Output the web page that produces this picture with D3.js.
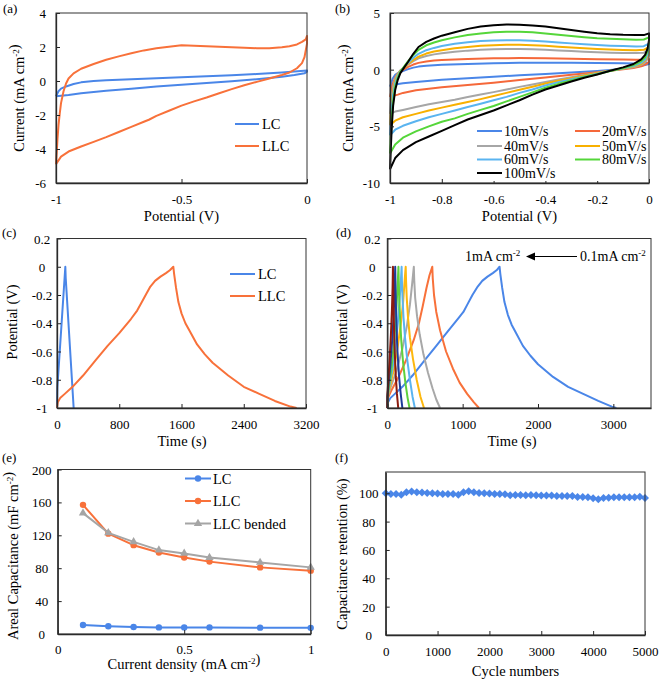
<!DOCTYPE html>
<html><head><meta charset="utf-8">
<script src="https://cdn.jsdelivr.net/npm/d3@7"></script>
<style>
body{margin:0;background:#fff}
svg{display:block}
text{font-family:"Liberation Serif","Times New Roman",serif;fill:#000}
</style>
</head><body>
<svg id="c" width="661" height="682"></svg>
<script>
// ---------- (a) CV: LC vs LLC ----------
const aLC = [[-1,-0.9],[-0.995,-0.75],[-0.99,-0.6],[-0.98,-0.45],[-0.96,-0.32],[-0.93,-0.18],[-0.9,-0.08],[-0.85,0.0],[-0.8,0.04],[-0.7,0.1],[-0.6,0.16],[-0.5,0.22],[-0.4,0.28],[-0.3,0.34],[-0.2,0.41],[-0.1,0.5],[-0.05,0.56],[0,0.62],
  [0,0.55],[-0.01,0.45],[-0.05,0.35],[-0.1,0.25],[-0.2,0.1],[-0.3,-0.02],[-0.4,-0.12],[-0.5,-0.22],[-0.6,-0.33],[-0.7,-0.45],[-0.8,-0.57],[-0.9,-0.72],[-0.95,-0.82],[-0.98,-0.87],[-1,-0.9]];
const aLLC = [[-1,-4.9],[-0.997,-4.2],[-0.994,-3.4],[-0.99,-2.6],[-0.985,-1.9],[-0.98,-1.3],[-0.97,-0.6],[-0.96,-0.15],[-0.95,0.15],[-0.93,0.45],[-0.9,0.72],[-0.85,1.0],[-0.8,1.25],[-0.75,1.45],[-0.7,1.63],[-0.65,1.8],[-0.6,1.92],[-0.55,2.02],[-0.5,2.1],[-0.45,2.08],[-0.4,2.05],[-0.35,2.02],[-0.3,1.98],[-0.25,1.95],[-0.2,1.93],[-0.15,1.93],[-0.1,1.98],[-0.07,2.05],[-0.04,2.15],[-0.02,2.3],[-0.005,2.45],[0,2.65],
  [0,2.2],[-0.005,1.8],[-0.01,1.4],[-0.02,1.05],[-0.04,0.75],[-0.07,0.5],[-0.1,0.35],[-0.15,0.15],[-0.2,-0.05],[-0.25,-0.25],[-0.3,-0.48],[-0.35,-0.72],[-0.4,-0.97],[-0.45,-1.2],[-0.5,-1.45],[-0.55,-1.75],[-0.6,-2.05],[-0.63,-2.28],[-0.65,-2.4],[-0.7,-2.7],[-0.75,-3.0],[-0.8,-3.3],[-0.85,-3.58],[-0.9,-3.85],[-0.95,-4.15],[-0.98,-4.45],[-1,-4.9]];
const aXTicks = [-1,-0.5,0];
const aYTicks = [-6,-4,-2,0,2,4];

// ---------- (b) CV at scan rates ----------
const bNames = ["10mV/s","20mV/s","40mV/s","50mV/s","60mV/s","80mV/s","100mV/s"];
const bColors = ["#4a86e8","#f5683a","#a6a6a6","#f8b000","#5ab4f0","#55d63a","#000000"];
const b10 = [[-1,-1.5],[-0.995,-1.2],[-0.99,-0.8],[-0.98,-0.45],[-0.97,-0.3],[-0.96,-0.2],[-0.945,-0.08],[-0.93,0.05],[-0.91,0.18],[-0.89,0.27],[-0.86,0.35],[-0.83,0.4],[-0.8,0.43],[-0.7,0.5],[-0.6,0.56],[-0.5,0.6],[-0.4,0.6],[-0.3,0.6],[-0.2,0.58],[-0.1,0.56],[-0.05,0.55],[0,0.6],
  [0,0.5],[-0.02,0.38],[-0.05,0.25],[-0.1,0.08],[-0.15,-0.03],[-0.2,-0.12],[-0.3,-0.25],[-0.4,-0.38],[-0.5,-0.5],[-0.6,-0.62],[-0.7,-0.75],[-0.8,-0.9],[-0.9,-1.08],[-0.95,-1.2],[-0.98,-1.3],[-1,-1.5]];
const b20 = [[-1,-2.4],[-0.995,-1.9],[-0.99,-1.3],[-0.98,-0.7],[-0.97,-0.35],[-0.96,-0.15],[-0.945,0.05],[-0.93,0.25],[-0.91,0.45],[-0.89,0.6],[-0.86,0.72],[-0.83,0.8],[-0.8,0.85],[-0.75,0.9],[-0.7,0.95],[-0.6,1.0],[-0.5,1.02],[-0.4,1.0],[-0.3,0.97],[-0.2,0.93],[-0.1,0.9],[-0.05,0.88],[-0.02,0.88],[0,0.95],
  [0,0.7],[-0.01,0.5],[-0.03,0.3],[-0.06,0.15],[-0.1,0.03],[-0.15,-0.1],[-0.2,-0.22],[-0.3,-0.45],[-0.4,-0.7],[-0.5,-0.92],[-0.6,-1.15],[-0.7,-1.35],[-0.8,-1.55],[-0.85,-1.68],[-0.9,-1.82],[-0.95,-2.05],[-0.97,-2.2],[-1,-2.4]];
const b40 = [[-1,-3.9],[-0.997,-3.0],[-0.993,-2.2],[-0.988,-1.5],[-0.98,-0.8],[-0.97,-0.35],[-0.96,-0.05],[-0.945,0.2],[-0.93,0.45],[-0.91,0.75],[-0.89,1.0],[-0.86,1.2],[-0.83,1.35],[-0.8,1.45],[-0.75,1.58],[-0.7,1.68],[-0.65,1.75],[-0.6,1.8],[-0.55,1.82],[-0.5,1.82],[-0.45,1.8],[-0.4,1.75],[-0.35,1.7],[-0.3,1.64],[-0.25,1.58],[-0.2,1.53],[-0.15,1.5],[-0.1,1.47],[-0.05,1.46],[-0.02,1.5],[0,1.7],
  [0,1.3],[-0.005,1.0],[-0.015,0.65],[-0.03,0.42],[-0.06,0.22],[-0.1,0.08],[-0.15,-0.1],[-0.2,-0.28],[-0.25,-0.47],[-0.3,-0.67],[-0.35,-0.87],[-0.4,-1.08],[-0.45,-1.3],[-0.5,-1.52],[-0.55,-1.75],[-0.6,-1.98],[-0.65,-2.2],[-0.7,-2.42],[-0.75,-2.65],[-0.8,-2.85],[-0.85,-3.05],[-0.9,-3.3],[-0.95,-3.55],[-0.98,-3.7],[-1,-3.9]];
const b50 = [[-1,-4.9],[-0.997,-3.8],[-0.993,-2.8],[-0.988,-1.9],[-0.98,-1.0],[-0.97,-0.45],[-0.96,-0.1],[-0.945,0.2],[-0.93,0.5],[-0.91,0.85],[-0.89,1.15],[-0.86,1.42],[-0.83,1.6],[-0.8,1.72],[-0.75,1.88],[-0.7,2.0],[-0.65,2.1],[-0.6,2.15],[-0.55,2.2],[-0.5,2.2],[-0.45,2.15],[-0.4,2.1],[-0.35,2.02],[-0.3,1.95],[-0.25,1.88],[-0.2,1.82],[-0.15,1.77],[-0.1,1.74],[-0.05,1.72],[-0.02,1.75],[0,2.0],
  [0,1.6],[-0.005,1.2],[-0.015,0.8],[-0.03,0.5],[-0.06,0.27],[-0.1,0.1],[-0.15,-0.1],[-0.2,-0.3],[-0.25,-0.52],[-0.3,-0.75],[-0.35,-0.98],[-0.4,-1.22],[-0.45,-1.5],[-0.5,-1.78],[-0.55,-2.05],[-0.6,-2.33],[-0.65,-2.6],[-0.7,-2.85],[-0.75,-3.1],[-0.8,-3.35],[-0.85,-3.6],[-0.9,-3.9],[-0.95,-4.2],[-0.98,-4.5],[-1,-4.9]];
const b60 = [[-1,-5.8],[-0.997,-4.5],[-0.993,-3.3],[-0.988,-2.2],[-0.98,-1.2],[-0.97,-0.55],[-0.96,-0.15],[-0.945,0.25],[-0.93,0.6],[-0.91,1.05],[-0.89,1.4],[-0.86,1.72],[-0.83,1.92],[-0.8,2.08],[-0.75,2.28],[-0.7,2.42],[-0.65,2.52],[-0.6,2.58],[-0.55,2.6],[-0.5,2.6],[-0.45,2.55],[-0.4,2.48],[-0.35,2.4],[-0.3,2.32],[-0.25,2.25],[-0.2,2.18],[-0.15,2.12],[-0.1,2.08],[-0.05,2.05],[-0.02,2.07],[0,2.3],
  [0,1.9],[-0.005,1.4],[-0.015,0.9],[-0.03,0.6],[-0.06,0.32],[-0.1,0.12],[-0.15,-0.1],[-0.2,-0.35],[-0.25,-0.6],[-0.3,-0.85],[-0.35,-1.1],[-0.4,-1.4],[-0.45,-1.75],[-0.5,-2.05],[-0.55,-2.4],[-0.6,-2.7],[-0.65,-3.0],[-0.7,-3.3],[-0.75,-3.6],[-0.8,-3.9],[-0.85,-4.2],[-0.9,-4.55],[-0.95,-4.95],[-0.98,-5.3],[-1,-5.8]];
const b80 = [[-1,-7.4],[-0.997,-5.8],[-0.993,-4.2],[-0.988,-2.8],[-0.98,-1.5],[-0.97,-0.7],[-0.96,-0.2],[-0.945,0.3],[-0.93,0.75],[-0.91,1.3],[-0.89,1.75],[-0.86,2.15],[-0.83,2.4],[-0.8,2.6],[-0.75,2.85],[-0.7,3.05],[-0.65,3.2],[-0.6,3.3],[-0.55,3.35],[-0.5,3.35],[-0.45,3.3],[-0.4,3.2],[-0.35,3.08],[-0.3,2.97],[-0.25,2.87],[-0.2,2.78],[-0.15,2.72],[-0.1,2.68],[-0.05,2.65],[-0.02,2.66],[0,2.85],
  [0,2.3],[-0.005,1.7],[-0.015,1.1],[-0.03,0.75],[-0.06,0.4],[-0.1,0.15],[-0.15,-0.12],[-0.2,-0.4],[-0.25,-0.65],[-0.3,-0.95],[-0.35,-1.25],[-0.4,-1.6],[-0.45,-2.0],[-0.5,-2.4],[-0.55,-2.8],[-0.6,-3.2],[-0.65,-3.55],[-0.7,-3.9],[-0.75,-4.3],[-0.8,-4.6],[-0.85,-5.0],[-0.9,-5.45],[-0.95,-6.0],[-0.98,-6.6],[-1,-7.4]];
const b100 = [[-1,-8.8],[-0.997,-7.0],[-0.993,-5.0],[-0.988,-3.2],[-0.98,-1.8],[-0.97,-0.9],[-0.96,-0.3],[-0.945,0.2],[-0.93,0.7],[-0.91,1.4],[-0.89,2.0],[-0.86,2.45],[-0.83,2.75],[-0.8,3.0],[-0.75,3.3],[-0.7,3.6],[-0.65,3.8],[-0.6,3.92],[-0.55,3.98],[-0.5,3.97],[-0.45,3.9],[-0.4,3.8],[-0.35,3.65],[-0.3,3.5],[-0.25,3.35],[-0.2,3.22],[-0.15,3.12],[-0.1,3.07],[-0.05,3.05],[-0.02,3.05],[0,3.2],
  [0,2.6],[-0.005,1.9],[-0.015,1.3],[-0.03,0.9],[-0.06,0.5],[-0.1,0.2],[-0.15,-0.1],[-0.2,-0.42],[-0.25,-0.72],[-0.3,-1.05],[-0.35,-1.4],[-0.4,-1.75],[-0.45,-2.2],[-0.5,-2.7],[-0.55,-3.15],[-0.6,-3.6],[-0.65,-4.0],[-0.7,-4.4],[-0.75,-4.9],[-0.8,-5.4],[-0.85,-5.9],[-0.9,-6.4],[-0.95,-7.1],[-0.98,-7.8],[-1,-8.8]];
const bXTicks = [-1,-0.8,-0.6,-0.4,-0.2,0];
const bYTicks = [-10,-5,0,5];

// ---------- (c) GCD: LC vs LLC ----------
const cLC = [[0,-1],[5,-0.85],[107,0],[112,-0.08],[214,-1]];
const cLLC = [[0,-1],[10,-0.96],[40,-0.93],[100,-0.9],[200,-0.85],[335,-0.77],[500,-0.66],[650,-0.56],[800,-0.47],[950,-0.37],[1030,-0.31],[1080,-0.26],[1150,-0.19],[1200,-0.14],[1260,-0.1],[1330,-0.07],[1400,-0.045],[1450,-0.025],[1495,0],[1505,-0.05],[1530,-0.15],[1560,-0.25],[1600,-0.33],[1650,-0.4],[1700,-0.45],[1800,-0.55],[1900,-0.62],[2000,-0.68],[2200,-0.77],[2400,-0.85],[2600,-0.9],[2800,-0.95],[3000,-0.99],[3080,-1]];
const cXTicks = [0,800,1600,2400,3200];
const cYTicks = [-1,-0.8,-0.6,-0.4,-0.2,0,0.2];

// ---------- (d) GCD at current densities ----------
const dColors = ["#4a86e8","#f8713a","#a8a8a8","#fdb80e","#5ab4f0","#5fd13d","#1e3c9a","#8c1c10"];
const d01 = [[0,-1],[10,-0.96],[40,-0.93],[100,-0.9],[200,-0.85],[335,-0.77],[500,-0.66],[650,-0.56],[800,-0.46],[950,-0.36],[1010,-0.32],[1060,-0.27],[1130,-0.2],[1200,-0.14],[1260,-0.1],[1330,-0.07],[1400,-0.045],[1450,-0.025],[1490,0],[1500,-0.05],[1525,-0.15],[1555,-0.25],[1600,-0.34],[1650,-0.41],[1700,-0.46],[1800,-0.56],[1900,-0.63],[2000,-0.69],[2200,-0.78],[2400,-0.85],[2600,-0.9],[2800,-0.95],[2980,-0.99],[3040,-1]];
const d02 = [[0,-1],[8,-0.93],[50,-0.88],[150,-0.78],[250,-0.66],[350,-0.52],[420,-0.4],[470,-0.28],[520,-0.15],[560,-0.06],[597,0],[603,-0.08],[620,-0.2],[650,-0.32],[700,-0.45],[780,-0.6],[870,-0.72],[960,-0.82],[1060,-0.9],[1150,-0.96],[1217,-1]];
const d03 = [[0,-1],[5,-0.92],[40,-0.86],[120,-0.74],[200,-0.58],[260,-0.42],[300,-0.27],[330,-0.12],[352,0],[358,-0.1],[370,-0.22],[395,-0.35],[430,-0.48],[480,-0.62],[540,-0.75],[600,-0.86],[650,-0.94],[700,-1]];
const d04 = [[0,-1],[4,-0.92],[30,-0.86],[90,-0.72],[140,-0.56],[180,-0.4],[210,-0.25],[230,-0.1],[244,0],[249,-0.1],[258,-0.22],[275,-0.36],[300,-0.5],[340,-0.65],[390,-0.8],[440,-0.92],[487,-1]];
const d05 = [[0,-1],[3,-0.92],[25,-0.85],[70,-0.72],[110,-0.55],[140,-0.4],[165,-0.22],[180,-0.1],[190,0],[194,-0.1],[202,-0.22],[215,-0.36],[235,-0.5],[265,-0.66],[300,-0.8],[335,-0.92],[366,-1]];
const d06 = [[0,-1],[3,-0.92],[20,-0.85],[55,-0.72],[85,-0.56],[110,-0.4],[128,-0.22],[140,-0.1],[148,0],[152,-0.1],[158,-0.22],[170,-0.37],[185,-0.52],[210,-0.68],[240,-0.82],[270,-0.93],[295,-1]];
const d08 = [[0,-1],[2,-0.92],[15,-0.84],[40,-0.7],[65,-0.52],[85,-0.33],[97,-0.15],[105,0],[108,-0.1],[113,-0.25],[122,-0.42],[135,-0.6],[155,-0.77],[178,-0.9],[200,-1]];
const d10 = [[0,-1],[2,-0.9],[12,-0.82],[30,-0.66],[48,-0.48],[62,-0.3],[70,-0.15],[75,0],[78,-0.1],[82,-0.25],[90,-0.45],[100,-0.62],[113,-0.78],[128,-0.9],[145,-1]];
const dXTicks = [0,1000,2000,3000];
const dYTicks = [-1,-0.8,-0.6,-0.4,-0.2,0,0.2];

// ---------- (e) Areal capacitance ----------
const eDensity = [0.1,0.2,0.3,0.4,0.5,0.6,0.8,1.0];
const eLC = [11,9.5,8.5,8,8,8,7.7,7.5];
const eLLC = [157,122,108,99,93,88,81,77];
const eBended = [147,123,112,102,98,93,87,81];
const eXTicks = [0,0.5,1];
const eYTicks = [0,40,80,120,160,200];

// ---------- (f) Cycling ----------
const fCycles = [0,100,200,300,400,500,600,700,800,900,1000,1100,1200,1300,1400,1500,1600,1700,1800,1900,2000,2100,2200,2300,2400,2500,2600,2700,2800,2900,3000,3100,3200,3300,3400,3500,3600,3700,3800,3900,4000,4100,4200,4300,4400,4500,4600,4700,4800,4900,5000];
const fRetention = [100,99.5,99.5,99,100.7,101.2,100.7,100.5,100.2,100,99.8,99.5,99.5,99.5,99,100.7,101.4,100.7,100.2,100,99.8,99.5,99.5,99.3,98.6,98.8,98.8,98.6,98.8,98.6,98.4,98.4,98.4,98.1,98.1,98.1,98.1,97.4,97.4,97.2,96.5,95.8,96.7,96.9,97.2,97.2,97.2,97.2,97.2,97.6,96.7];
const fXTicks = [0,1000,2000,3000,4000,5000];
const fYTicks = [0,20,40,60,80,100];

// ================= drawing =================
const svg = d3.select('#c');
const BLUE = "#4a86e8", ORANGE = "#f8713a", GRAY = "#a5a5a5";

function panel(o) {
  const x = d3.scaleLinear().domain(o.xd).range([o.L, o.R]);
  const y = d3.scaleLinear().domain(o.yd).range([o.B, o.T]);
  const g = svg.append('g');
  o.g = g; o.x = x; o.y = y;
  const plot = g.append('g');
  o.plot = plot;
  const ax = g.append('g').attr('transform', `translate(0,${o.B})`)
    .call(d3.axisBottom(x).tickValues(o.xt).tickSizeInner(-4).tickSizeOuter(0).tickFormat(d => String(d)));
  ax.attr('font-size', 13);
  ax.selectAll('text').attr('y', o.xLabY || 21).attr('dy', null);
  const ay = g.append('g').attr('transform', `translate(${o.L},0)`)
    .call(d3.axisLeft(y).tickValues(o.yt).tickSizeInner(-4).tickSizeOuter(0).tickFormat(d => String(d)));
  ay.attr('font-size', 13);
  if (o.yCenter) ay.selectAll('text').attr('x', -o.yGap).attr('text-anchor', 'middle').attr('dy', '0.35em');
  else ay.selectAll('text').attr('x', -o.yGap).attr('dy', '0.35em');
  [ax, ay].forEach(a => { a.select('.domain').attr('stroke', '#222').attr('stroke-width', 1.3); a.selectAll('.tick line').attr('stroke', '#222'); });
  g.append('rect').attr('x', o.L).attr('y', o.T).attr('width', o.R - o.L).attr('height', o.B - o.T)
    .attr('fill', 'none').attr('stroke', '#333').attr('stroke-width', 1);
  const xt = g.append('text').attr('x', o.xtx).attr('y', o.xty).attr('text-anchor', 'middle').attr('font-size', 14.5);
  addText(xt, o.xTitle);
  const yt = g.append('text').attr('transform', `translate(${o.ytx},${o.yty}) rotate(-90)`)
    .attr('text-anchor', 'middle').attr('dy', '0.35em').attr('font-size', 14.5);
  addText(yt, o.yTitle);
  g.append('text').attr('x', o.lx).attr('y', o.ly).attr('font-size', 13).text(o.label);
  return o;
}
function addText(t, parts) {
  parts.forEach(p => {
    if (p[1]) {
      t.append('tspan').attr('dy', -5).attr('font-size', 9).text(p[0]);
      t.append('tspan').attr('dy', 5).text('');
    } else t.append('tspan').text(p[0]);
  });
}
const line = (o) => d3.line().x(d => o.x(d[0])).y(d => o.y(d[1]));
function drawLine(o, data, color, w) {
  o.plot.append('path').attr('d', line(o)(data)).attr('fill', 'none')
    .attr('stroke', color).attr('stroke-width', w || 2).attr('stroke-linejoin', 'round');
}
function legendRow(g, x1, x2, yy, color, label, tx, fs) {
  g.append('line').attr('x1', x1).attr('x2', x2).attr('y1', yy).attr('y2', yy).attr('stroke', color).attr('stroke-width', 2);
  g.append('text').attr('x', tx).attr('y', yy).attr('dy', '0.35em').attr('font-size', fs).text(label);
}

// (a)
const pa = panel({L:56, R:307, T:13, B:183, xd:[-1,0], yd:[-6,4], xt:aXTicks, yt:aYTicks, yGap:10,
  xTitle:[["Potential (V)"]], xtx:181.5, xty:221,
  yTitle:[["Current (mA cm"],["-2",1],[")"]], ytx:19, yty:98, label:"(a)", lx:3, ly:13});
drawLine(pa, aLC, BLUE);
drawLine(pa, aLLC, ORANGE);
legendRow(pa.g, 235, 259, 124, BLUE, "LC", 262, 14.5);
legendRow(pa.g, 235, 259, 146, ORANGE, "LLC", 262, 14.5);

// (b)
const pb = panel({L:390, R:649, T:13, B:183, xd:[-1,0], yd:[-10,5], xt:bXTicks, yt:bYTicks, yGap:10,
  xTitle:[["Potential (V)"]], xtx:519.5, xty:221,
  yTitle:[["Current (mA cm"],["-2",1],[")"]], ytx:348, yty:98, label:"(b)", lx:335, ly:13});
[b10,b20,b40,b50,b60,b80,b100].forEach((d, i) => drawLine(pb, d, bColors[i]));
pb.g.append('rect').attr('x', 474).attr('y', 123).attr('width', 174).attr('height', 58).attr('fill', '#fff');
const bRowsY = [131, 146, 159.5, 173];
bNames.forEach((n, i) => {
  const col = i === 6 ? 0 : i % 2, row = i === 6 ? 3 : Math.floor(i / 2);
  const x1 = col ? 575 : 477;
  legendRow(pb.g, x1, x1 + 25, bRowsY[row], bColors[i], n, x1 + 27, 14);
});

// (c)
const pc = panel({L:57, R:306, T:238.5, B:408, xd:[0,3200], yd:[-1,0.2], xt:cXTicks, yt:cYTicks, yGap:15, yCenter:true,
  xTitle:[["Time (s)"]], xtx:182, xty:446,
  yTitle:[["Potential (V)"]], ytx:12, yty:322, label:"(c)", lx:2, ly:237});
drawLine(pc, cLC, BLUE);
drawLine(pc, cLLC, ORANGE);
legendRow(pc.g, 230, 255, 274, BLUE, "LC", 258, 14.5);
legendRow(pc.g, 230, 255, 296, ORANGE, "LLC", 258, 14.5);

// (d)
const pd = panel({L:387.3, R:651, T:238.5, B:408, xd:[0,3500], yd:[-1,0.2], xt:dXTicks, yt:dYTicks, yGap:15, yCenter:true,
  xTitle:[["Time (s)"]], xtx:512, xty:446,
  yTitle:[["Potential (V)"]], ytx:342, yty:322, label:"(d)", lx:336, ly:237});
[d01,d02,d03,d04,d05,d06,d08,d10].forEach((d, i) => drawLine(pd, d, dColors[i]));
const ann1 = pd.g.append('text').attr('x', 465).attr('y', 261).attr('font-size', 14);
addText(ann1, [["1mA cm"],["-2",1]]);
const ann2 = pd.g.append('text').attr('x', 580).attr('y', 261).attr('font-size', 14);
addText(ann2, [["0.1mA cm"],["-2",1]]);
pd.g.append('line').attr('x1', 577).attr('x2', 532).attr('y1', 256.5).attr('y2', 256.5).attr('stroke', '#000').attr('stroke-width', 1);
pd.g.append('path').attr('d', 'M526,256.5 L535,252.5 L535,260.5 Z').attr('fill', '#000');

// (e)
const pe = panel({L:57.7, R:310.7, T:469.5, B:634, xd:[0,1], yd:[0,200], xt:eXTicks, yt:eYTicks, yGap:16, yCenter:true,
  xLabY:19.5,
  xTitle:[["Current density (mA cm"],["-2",1],[")"]], xtx:184, xty:669,
  yTitle:[["Areal Capacitance  (mF cm"],["-2",1],[")"]], ytx:13, yty:556, label:"(e)", lx:2, ly:462});
const eSeries = [[eLC, BLUE, 'circle'], [eLLC, ORANGE, 'circle'], [eBended, GRAY, 'tri']];
eSeries.forEach(([vals, col, m]) => {
  const pts = eDensity.map((d, i) => [d, vals[i]]);
  drawLine(pe, pts, col);
  pts.forEach(p => {
    if (m === 'circle') pe.plot.append('circle').attr('cx', pe.x(p[0])).attr('cy', pe.y(p[1])).attr('r', 3.2).attr('fill', col);
    else pe.plot.append('path').attr('d', d3.symbol(d3.symbolTriangle, 30)()).attr('transform', `translate(${pe.x(p[0])},${pe.y(p[1])})`).attr('fill', col);
  });
});
const eLeg = [["LC", BLUE, 'circle', 478.5], ["LLC", ORANGE, 'circle', 501], ["LLC bended", GRAY, 'tri', 523.5]];
eLeg.forEach(([n, col, m, yy]) => {
  legendRow(pe.g, 185, 211, yy, col, n, 213, 14.5);
  if (m === 'circle') pe.g.append('circle').attr('cx', 198).attr('cy', yy).attr('r', 3.2).attr('fill', col);
  else pe.g.append('path').attr('d', d3.symbol(d3.symbolTriangle, 30)()).attr('transform', `translate(198,${yy})`).attr('fill', col);
});

// (f)
const pf = panel({L:385.7, R:645, T:472, B:635, xd:[0,5000], yd:[0,115], xt:fXTicks, yt:fYTicks, yGap:17, yCenter:true,
  xTitle:[["Cycle numbers"]], xtx:515.5, xty:676,
  yTitle:[["Capacitance retention (%)"]], ytx:342, yty:554, label:"(f)", lx:335, ly:462});
const fPts = fCycles.map((c, i) => [c, fRetention[i]]);
drawLine(pf, fPts, BLUE, 1.5);
fPts.forEach(p => {
  pf.plot.append('path').attr('d', 'M0,-4L4,0L0,4L-4,0Z')
    .attr('transform', `translate(${pf.x(p[0])},${pf.y(p[1])})`).attr('fill', BLUE);
});
</script>
</body></html>
